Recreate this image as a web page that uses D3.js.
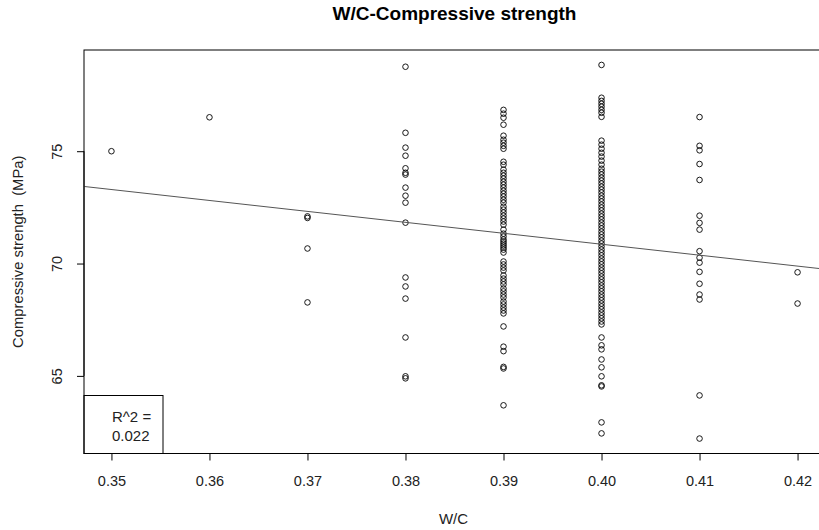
<!DOCTYPE html>
<html>
<head>
<meta charset="utf-8">
<script src="https://cdn.jsdelivr.net/npm/d3@7"></script>
<style>
  html, body { margin: 0; padding: 0; background: #fff; }
  svg { display: block; font-family: "Liberation Sans", Arial, sans-serif; }
  text { white-space: pre; }
</style>
</head>
<body>
<svg id="chart" width="819" height="530"></svg>
<script>
// Water/cement ratio groups and measured compressive strengths (MPa)
const wc035 = [75.0];
const wc036 = [76.51];
const wc037 = [72.10, 72.03, 70.67, 68.27];
const wc038 = [78.76, 75.82, 75.16, 74.80, 74.24, 74.04, 73.96, 73.38, 73.02, 72.71,
               71.82, 69.38, 68.98, 68.44, 66.71, 64.98, 64.89];
const wc039 = [76.84, 76.67, 76.49, 76.18, 75.69, 75.51, 75.38, 75.24, 75.11, 74.53,
               74.40, 74.18, 74.04, 73.91, 73.78, 73.64, 73.51, 73.38, 73.24, 73.11,
               72.98, 72.84, 72.71, 72.53, 72.40, 72.27, 72.13, 72.00, 71.87, 71.73,
               71.51, 71.33, 71.20, 71.07, 70.98, 70.89, 70.80, 70.71, 70.62, 70.49,
               70.09, 69.96, 69.82, 69.69, 69.47, 69.33, 69.20, 69.07, 68.89, 68.76,
               68.62, 68.49, 68.31, 68.18, 68.04, 67.91, 67.78, 67.20, 66.30, 66.10,
               65.40, 65.33, 63.69];
const wc040 = [78.84, 77.38, 77.24, 77.11, 76.98, 76.84, 76.71, 76.53, 75.47, 75.29,
               75.11, 74.93, 74.76, 74.58, 74.40, 74.22, 74.09, 73.96, 73.82, 73.69,
               73.56, 73.42, 73.29, 73.16, 73.02, 72.89, 72.76, 72.62, 72.49, 72.36,
               72.22, 72.09, 71.96, 71.82, 71.69, 71.56, 71.42, 71.29, 71.16, 71.02,
               70.89, 70.76, 70.62, 70.49, 70.36, 70.22, 70.09, 69.96, 69.82, 69.69,
               69.56, 69.42, 69.29, 69.16, 69.02, 68.89, 68.76, 68.62, 68.49, 68.36,
               68.22, 68.09, 67.96, 67.82, 67.69, 67.56, 67.42, 67.29, 66.71, 66.36,
               66.18, 65.73, 65.38, 64.98, 64.58, 64.53, 62.93, 62.44];
const wc041 = [76.52, 75.24, 75.04, 74.43, 73.72, 72.13, 71.81, 71.51, 70.55, 70.26,
               70.04, 69.63, 69.10, 68.62, 68.40, 64.13, 62.21];
const wc042 = [69.61, 68.22];

const groups = [
  { wc: 0.35, values: wc035 },
  { wc: 0.36, values: wc036 },
  { wc: 0.37, values: wc037 },
  { wc: 0.38, values: wc038 },
  { wc: 0.39, values: wc039 },
  { wc: 0.40, values: wc040 },
  { wc: 0.41, values: wc041 },
  { wc: 0.42, values: wc042 }
];

const xTicks = [0.35, 0.36, 0.37, 0.38, 0.39, 0.40, 0.41, 0.42];
const yTicks = [65, 70, 75];

// Least-squares fit shown on the plot
const fitIntercept = 90.34;
const fitSlope = -48.7;
const rSquaredLabel = ["R^2 =", "0.022"];

const titleText = "W/C-Compressive strength";
const xLabel = "W/C";
const yLabel = "Compressive strength  (MPa)";

// ---- drawing ----
const points = groups.flatMap(g => g.values.map(v => ({ x: g.wc, y: v })));

// R-style 4% padding around the data range
function padded(ext) {
  const d = (ext[1] - ext[0]) * 0.04;
  return [ext[0] - d, ext[1] + d];
}

const plot = { left: 84, right: 825, top: 50, bottom: 453.5 };

const x = d3.scaleLinear()
  .domain(padded(d3.extent(points, d => d.x)))
  .range([plot.left, plot.right]);
const y = d3.scaleLinear()
  .domain(padded(d3.extent(points, d => d.y)))
  .range([plot.bottom, plot.top]);

const svg = d3.select("#chart");

svg.append("defs").append("clipPath").attr("id", "plotClip")
  .append("rect")
  .attr("x", plot.left).attr("y", plot.top)
  .attr("width", plot.right - plot.left).attr("height", plot.bottom - plot.top);

// Title
svg.append("text")
  .attr("x", (plot.left + plot.right) / 2)
  .attr("y", 20)
  .attr("text-anchor", "middle")
  .attr("font-weight", "bold")
  .attr("font-size", 19)
  .attr("fill", "#000")
  .text(titleText);

// X axis
const xAxis = svg.append("g")
  .attr("transform", `translate(0,${plot.bottom})`)
  .call(d3.axisBottom(x).tickValues(xTicks).tickFormat(d3.format(".2f")).tickSize(7).tickPadding(15));
xAxis.select(".domain")
  .attr("d", `M${x(xTicks[0])},0H${x(xTicks[xTicks.length - 1])}`);
xAxis.selectAll("text").attr("font-size", 14.5).attr("fill", "#222").attr("font-family", "Liberation Sans, Arial, sans-serif");
xAxis.selectAll("line, path").attr("stroke", "#000");

// Y axis with labels turned parallel to the axis
const yAxis = svg.append("g")
  .attr("transform", `translate(${plot.left},0)`)
  .call(d3.axisLeft(y).tickValues(yTicks).tickSize(7).tickFormat(d3.format("d")));
yAxis.select(".domain")
  .attr("d", `M0,${y(yTicks[0])}V${y(yTicks[yTicks.length - 1])}`);
yAxis.selectAll("line, path").attr("stroke", "#000");
yAxis.selectAll(".tick text")
  .attr("x", null).attr("dy", null)
  .attr("text-anchor", "middle")
  .attr("transform", "translate(-27,0) rotate(-90)")
  .attr("dy", "0.35em")
  .attr("font-size", 14.5).attr("fill", "#222").attr("font-family", "Liberation Sans, Arial, sans-serif");

// Axis titles
svg.append("text")
  .attr("x", (plot.left + plot.right) / 2 - 1)
  .attr("y", 524)
  .attr("text-anchor", "middle")
  .attr("font-size", 15)
  .attr("fill", "#222")
  .text(xLabel);

svg.append("text")
  .attr("transform", `translate(23,${(plot.top + plot.bottom) / 2}) rotate(-90)`)
  .attr("text-anchor", "middle")
  .attr("font-size", 14.8)
  .attr("fill", "#222")
  .text(yLabel);

const inner = svg.append("g").attr("clip-path", "url(#plotClip)");

// Points (open circles)
inner.selectAll("circle.pt")
  .data(points)
  .join("circle")
  .attr("class", "pt")
  .attr("cx", d => x(d.x))
  .attr("cy", d => y(d.y))
  .attr("r", 2.8)
  .attr("fill", "none")
  .attr("stroke", "#000")
  .attr("stroke-width", 0.9);

// Regression line across the whole plotting region
const xd = x.domain();
inner.append("line")
  .attr("x1", x(xd[0])).attr("y1", y(fitIntercept + fitSlope * xd[0]))
  .attr("x2", x(xd[1])).attr("y2", y(fitIntercept + fitSlope * xd[1]))
  .attr("stroke", "#555")
  .attr("stroke-width", 1);

// R^2 legend box in the bottom-left corner
const legendW = 79, legendH = 58;
svg.append("rect")
  .attr("x", plot.left).attr("y", plot.bottom - legendH)
  .attr("width", legendW).attr("height", legendH)
  .attr("fill", "#fff").attr("stroke", "#000").attr("stroke-width", 1);
svg.append("g").selectAll("text")
  .data(rSquaredLabel)
  .join("text")
  .attr("x", plot.left + 28)
  .attr("y", (d, i) => plot.bottom - legendH + 26 + i * 19)
  .attr("font-size", 15)
  .attr("fill", "#222")
  .text(d => d);

// Plot frame
svg.append("rect")
  .attr("x", plot.left).attr("y", plot.top)
  .attr("width", plot.right - plot.left).attr("height", plot.bottom - plot.top)
  .attr("fill", "none").attr("stroke", "#000").attr("stroke-width", 1);
</script>
</body>
</html>
